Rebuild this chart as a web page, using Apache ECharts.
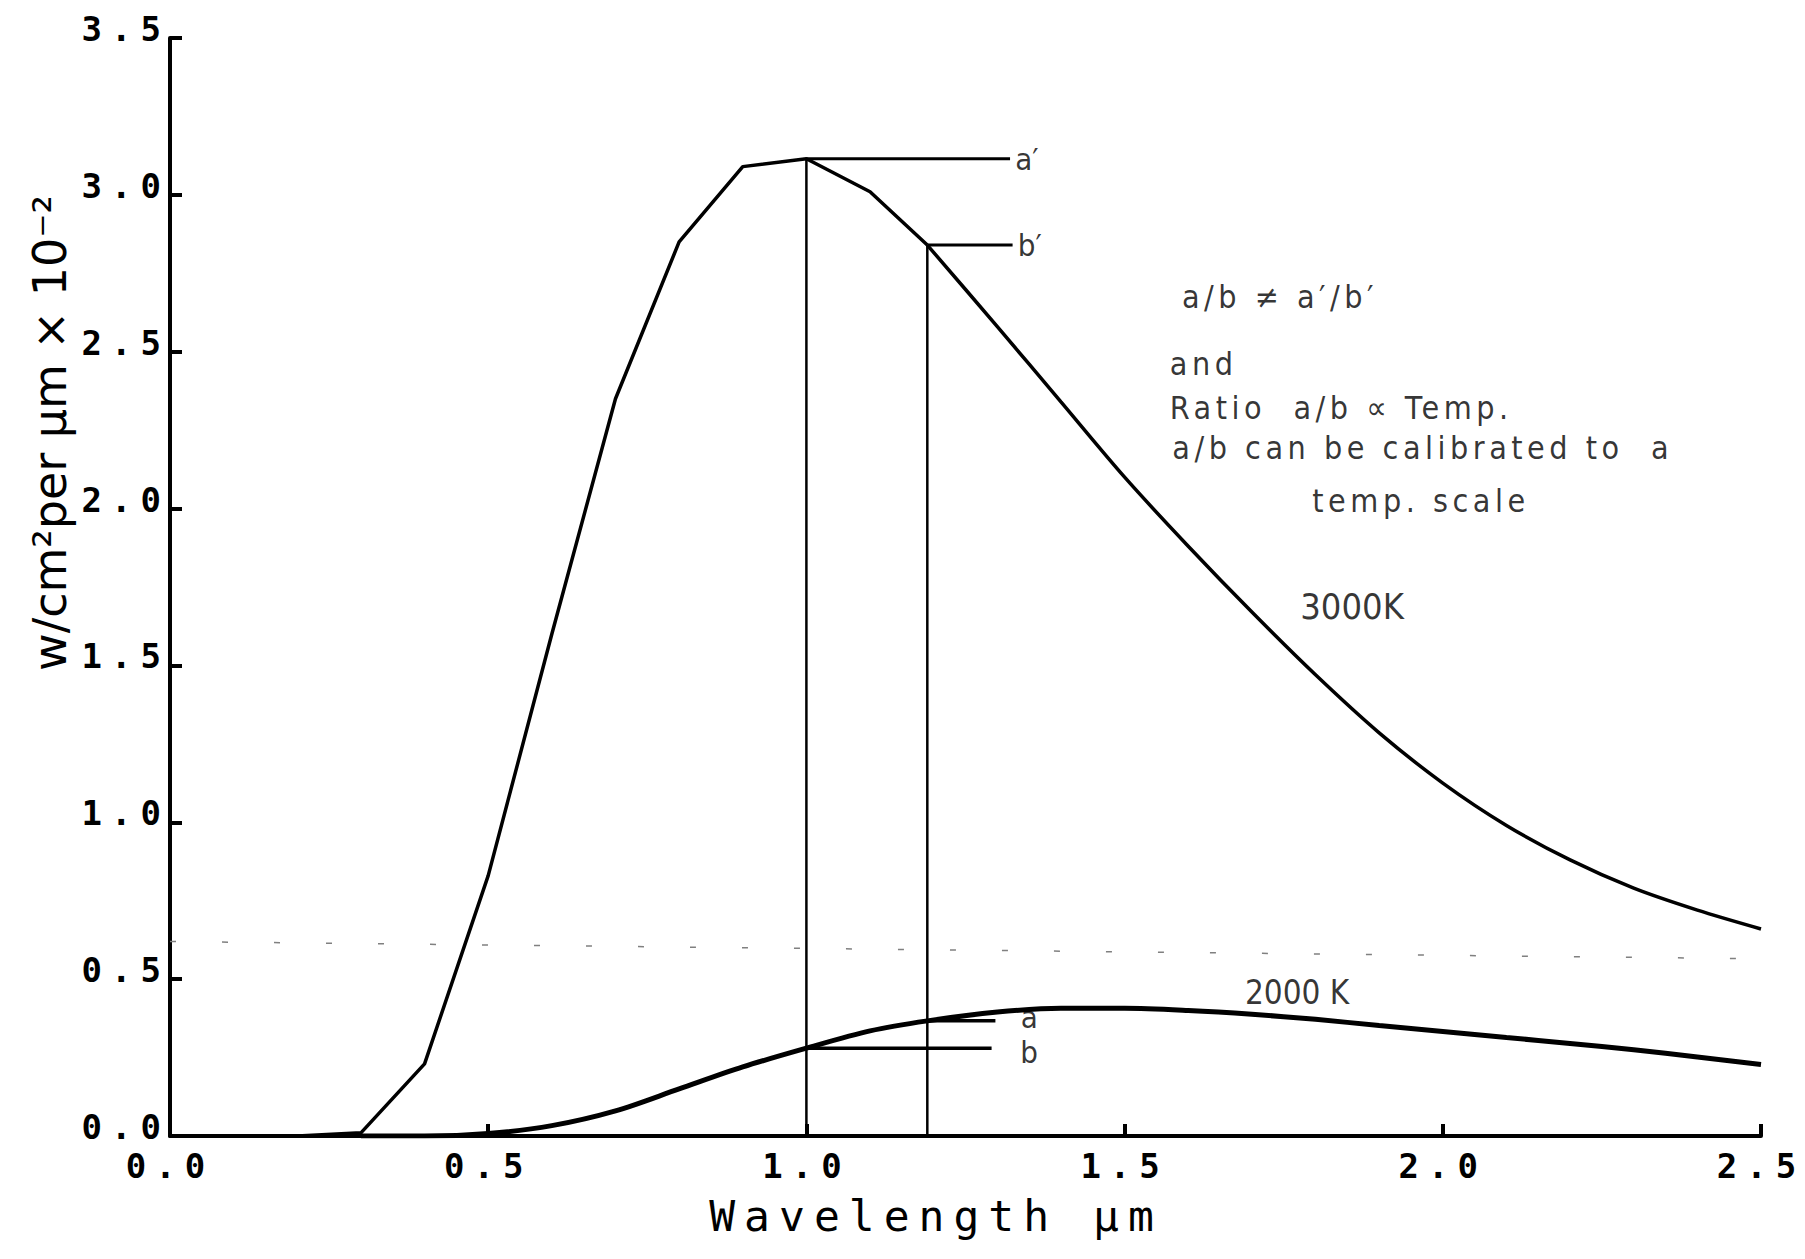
<!DOCTYPE html>
<html>
<head>
<meta charset="utf-8">
<script src="https://cdn.jsdelivr.net/npm/echarts@6/dist/echarts.min.js"></script>
<style>
  html, body { margin: 0; padding: 0; background: #fff; }
  #chart { width: 1805px; height: 1259px; }
  /* plotter-style spacing for the monospaced axis lettering */
  #chart text[style*="Mono"] { letter-spacing: 9px; }
  /* looser tracking for the annotation block */
  #chart text[style*="32px"][style*="Condensed"] { letter-spacing: 4.5px; }
</style>
</head>
<body>
<div id="chart"></div>
<script>
// Black-body spectral emission, 3000 K and 2000 K
const wavelength3000 = [0, 0.1, 0.2, 0.3, 0.4, 0.5, 0.6, 0.7, 0.8, 0.9, 1.0, 1.1, 1.19, 1.3, 1.4, 1.5, 1.6, 1.7, 1.8, 1.9, 2.0, 2.1, 2.2, 2.3, 2.4, 2.5];
const flux3000 = [0, 0, 0, 0.01, 0.23, 0.83, 1.6, 2.35, 2.85, 3.09, 3.115, 3.01, 2.84, 2.58, 2.34, 2.10, 1.88, 1.67, 1.47, 1.285, 1.125, 0.99, 0.88, 0.79, 0.72, 0.66];

const wavelength2000 = [0.3, 0.4, 0.5, 0.6, 0.7, 0.8, 0.9, 1.0, 1.1, 1.19, 1.3, 1.4, 1.5, 1.6, 1.7, 1.8, 1.9, 2.0, 2.1, 2.2, 2.3, 2.4, 2.5];
const flux2000 = [0, 0, 0.008, 0.033, 0.08, 0.15, 0.22, 0.28, 0.335, 0.367, 0.395, 0.407, 0.407, 0.40, 0.388, 0.372, 0.352, 0.333, 0.314, 0.295, 0.275, 0.252, 0.228];

// the two sampling wavelengths (a/b and a'/b')
const sampleWavelengths = [1.0, 1.19];
// where each leader line ends, and its label
const leaderEnds = { aPrime: 1.32, bPrime: 1.324, a: 1.297, b: 1.291 };
const leaderLabels = { aPrime: 'a\u2032', bPrime: 'b\u2032', a: 'a', b: 'b' };

// faint dashed trace across the sheet
const scanTraceX = [0, 2.5];
const scanTraceY = [0.62, 0.565];

// axis ranges and tick steps
const xRange = [0, 2.5];
const yRange = [0, 3.5];
const tickStep = 0.5;

// annotation text
const noteLines = [
  'a/b \u2260 a\u2032/b\u2032',
  'and',
  'Ratio  a/b \u221D Temp.',
  'a/b can be calibrated to  a',
  'temp. scale'
];
const curveNames = ['3000K', '2000 K'];

const xTitle = 'Wavelength \u00B5m';
const yTitle = 'w/cm\u00B2per \u00B5m \u00D7 10\u207B\u00B2';

// ---- helpers ----
const zip = (xs, ys) => xs.map((x, i) => [x, ys[i]]);
const valueAt = (xs, ys, x) => ys[xs.indexOf(x)];

const [wA, wB] = sampleWavelengths; // wA = 1.0 (b, a'), wB = 1.19 (a, b')
const topA = valueAt(wavelength3000, flux3000, wA);   // a'
const topB = valueAt(wavelength3000, flux3000, wB);   // b'
const lowA = valueAt(wavelength2000, flux2000, wB);   // a
const lowB = valueAt(wavelength2000, flux2000, wA);   // b

// 3000 K: ruled segments up to b', then a smooth fall-off
const split3000 = wavelength3000.indexOf(wB);
const rising3000 = zip(wavelength3000, flux3000).slice(0, split3000 + 1);
const falling3000 = zip(wavelength3000, flux3000).slice(split3000);

const segment = (pts, width) => ({
  type: 'line', data: pts, symbol: 'none', silent: true,
  lineStyle: { color: '#000', width: width }, z: 3
});

const textFont = "'DejaVu Sans Condensed', 'Liberation Sans Narrow', 'DejaVu Sans', sans-serif";

// label placement in data units (text anchored at its left edge)
const notePlacement = [
  [1.59, 2.674], [1.571, 2.461], [1.571, 2.322], [1.575, 2.194], [1.795, 2.025]
];
const curveNamePlacement = [[1.776, 1.687], [1.689, 0.459]];
const curveNameSize = [36, 33];

const noteData = noteLines.map((t, i) => ({ value: notePlacement[i], name: t }));
const curveNameData = curveNames.map((t, i) => ({
  value: curveNamePlacement[i], name: t, label: { fontSize: curveNameSize[i] }
}));

const leaderLabelData = [
  { value: [leaderEnds.aPrime + 0.008, topA], name: leaderLabels.aPrime },
  { value: [leaderEnds.bPrime + 0.008, topB], name: leaderLabels.bPrime },
  { value: [leaderEnds.a + 0.04, lowA + 0.012], name: leaderLabels.a },
  { value: [leaderEnds.b + 0.045, lowB - 0.012], name: leaderLabels.b }
];

const chart = echarts.init(document.getElementById('chart'), null, { renderer: 'svg' });

const monoLabel = {
  fontFamily: "'DejaVu Sans Mono', monospace",
  fontWeight: 'bold',
  fontSize: 34,
  color: '#000'
};

const textLabel = (size) => ({
  show: true, position: 'right', distance: 0,
  formatter: p => p.name,
  fontFamily: textFont, fontSize: size, color: '#000'
});

chart.setOption({
  animation: false,
  backgroundColor: '#fff',
  grid: { left: 170, right: 44, top: 38, bottom: 123 },
  xAxis: {
    type: 'value', min: xRange[0], max: xRange[1], interval: tickStep,
    axisLine: { lineStyle: { color: '#000', width: 4 } },
    axisTick: { inside: true, length: 12, lineStyle: { color: '#000', width: 4 } },
    splitLine: { show: false },
    axisLabel: Object.assign({ margin: 13, formatter: v => v.toFixed(1) }, monoLabel)
  },
  yAxis: {
    type: 'value', min: yRange[0], max: yRange[1], interval: tickStep,
    axisLine: { show: true, lineStyle: { color: '#000', width: 4 } },
    axisTick: { show: true, inside: true, length: 12, lineStyle: { color: '#000', width: 4 } },
    splitLine: { show: false },
    axisLabel: Object.assign({
      margin: 0, verticalAlign: 'bottom', lineHeight: 18,
      formatter: v => v.toFixed(1)
    }, monoLabel)
  },
  graphic: [
    {
      type: 'text', x: 936, y: 1216,
      style: {
        text: xTitle, fill: '#000',
        font: "43px 'DejaVu Sans Mono', monospace",
        textAlign: 'center', textVerticalAlign: 'middle'
      }
    },
    {
      type: 'text', x: 50, y: 433, rotation: Math.PI / 2,
      style: {
        text: yTitle, fill: '#000',
        font: "46px 'DejaVu Sans', sans-serif",
        textAlign: 'center', textVerticalAlign: 'middle'
      }
    }
  ],
  series: [
    {
      name: 'trace', type: 'line', data: zip(scanTraceX, scanTraceY), symbol: 'none', silent: true,
      lineStyle: { color: '#808080', width: 1.5, type: [6, 46] }, z: 1
    },
    {
      name: '3000K', type: 'line', data: rising3000, symbol: 'none',
      lineStyle: { color: '#000', width: 3.5 }, z: 4
    },
    {
      name: '3000K', type: 'line', data: falling3000, symbol: 'none',
      smooth: 0.3,
      lineStyle: { color: '#000', width: 3.5 }, z: 4
    },
    {
      name: '2000 K', type: 'line', data: zip(wavelength2000, flux2000), symbol: 'none',
      smooth: 0.3,
      lineStyle: { color: '#000', width: 5 }, z: 4
    },
    // sampling verticals
    segment([[wA, 0], [wA, topA]], 2.5),
    segment([[wB, 0], [wB, topB]], 2.5),
    // leaders to the labels
    segment([[wA, topA], [leaderEnds.aPrime, topA]], 3),
    segment([[wB, topB], [leaderEnds.bPrime, topB]], 3),
    segment([[wB, lowA], [leaderEnds.a, lowA]], 3.5),
    segment([[wA, lowB], [leaderEnds.b, lowB]], 3.5),
    {
      name: 'notes', type: 'scatter', data: noteData, symbolSize: 0, silent: true, z: 5,
      label: textLabel(32)
    },
    {
      name: 'curve names', type: 'scatter', data: curveNameData, symbolSize: 0, silent: true, z: 5,
      label: textLabel(33)
    },
    {
      name: 'leader labels', type: 'scatter', data: leaderLabelData, symbolSize: 0, silent: true, z: 5,
      label: textLabel(31)
    }
  ]
});
</script>
</body>
</html>
